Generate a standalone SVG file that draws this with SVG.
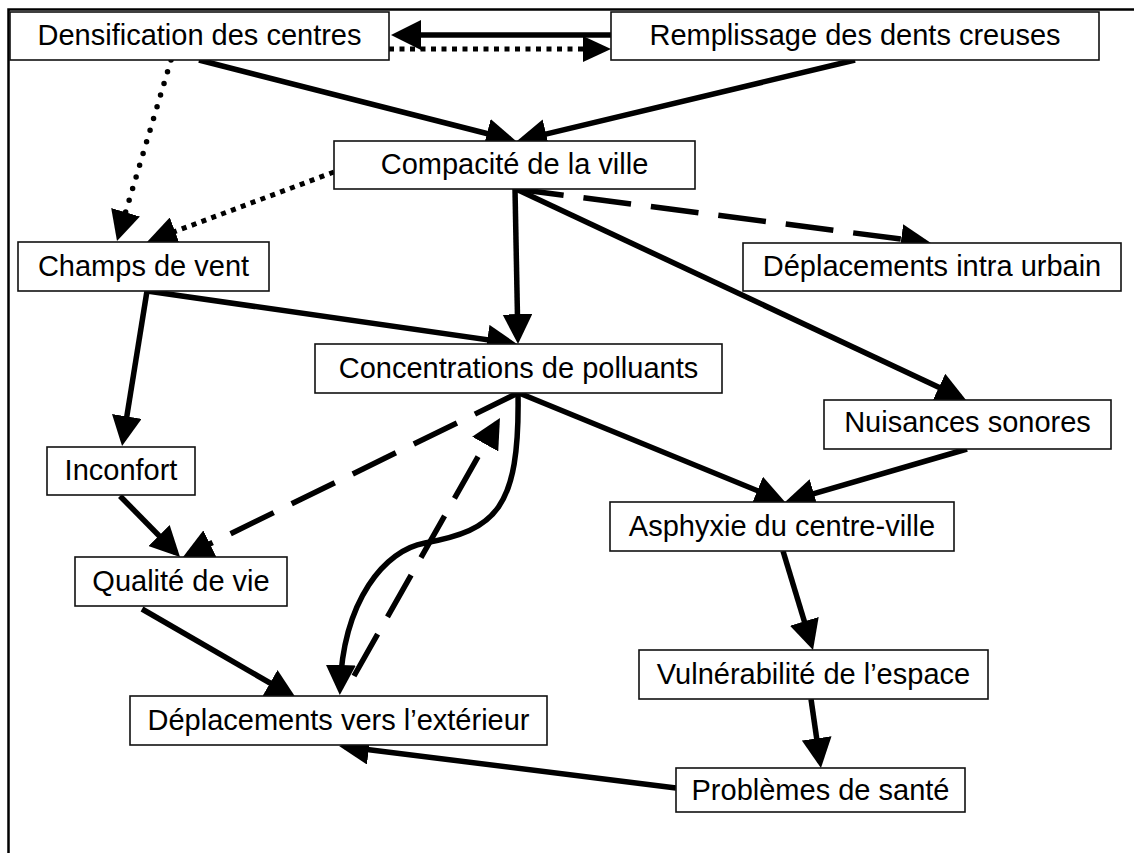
<svg xmlns="http://www.w3.org/2000/svg" width="1134" height="853" viewBox="0 0 1134 853">
  <style>
    .box { fill: #ffffff; stroke: #111111; stroke-width: 1.6; }
    .lbl { font-family: "Liberation Sans", Arial, sans-serif; font-size: 29px; fill: #000000; text-anchor: middle; }
    .frame { fill: none; stroke: #000000; stroke-width: 2.5; }
    .solid { fill: none; stroke: #000000; stroke-width: 5.5; marker-end: url(#arrow); }
    .dash { fill: none; stroke: #000000; stroke-width: 5.5; stroke-dasharray: 48 20; marker-end: url(#arrow); }
    .dots { fill: none; stroke: #000000; stroke-width: 5.5; stroke-linecap: round; stroke-dasharray: 0 12.2; marker-end: url(#arrow); }
    .sqdots { fill: none; stroke: #000000; stroke-width: 5; stroke-dasharray: 5 5.5; marker-end: url(#arrow); }
  </style>
  <defs>
    <marker id="arrow" markerUnits="userSpaceOnUse" viewBox="0 0 30 30" markerWidth="30" markerHeight="30" refX="24" refY="15" orient="auto">
      <path d="M0,0 L30,15 L0,30 z" fill="#000000"/>
    </marker>
    <marker id="arrowS" markerUnits="userSpaceOnUse" viewBox="0 0 28 26" markerWidth="28" markerHeight="26" refX="22" refY="13" orient="auto">
      <path d="M0,0 L28,13 L0,26 z" fill="#000000"/>
    </marker>
  </defs>

  <path class="frame" d="M8.5,853 L8.5,9.5 L1134,9.5"/>

  <g id="connectors">
    <line id="e-rempl-dens" class="solid" x1="611" y1="35" x2="397" y2="35"/>
    <line id="e-dens-rempl" class="sqdots" x1="389" y1="49" x2="605" y2="49" style="marker-end:url(#arrowS)"/>
    <line id="e-dens-comp" class="solid" x1="199" y1="60" x2="510.2" y2="139.5"/>
    <line id="e-rempl-comp" class="solid" x1="855" y1="60" x2="522.8" y2="139.6"/>
    <line id="e-dens-champs" class="dots" x1="171" y1="60" x2="118.7" y2="235.3"/>
    <line id="e-comp-champs" class="sqdots" x1="334" y1="172" x2="152.6" y2="239.9"/>
    <line id="e-comp-intra" class="dash" x1="516" y1="189" x2="925" y2="242.2"/>
    <line id="e-comp-conc" class="solid" x1="515" y1="189" x2="517.9" y2="338"/>
    <line id="e-comp-nuis" class="solid" x1="516" y1="189" x2="960.6" y2="397.5"/>
    <line id="e-champs-conc" class="solid" x1="147" y1="291" x2="511.1" y2="343.1"/>
    <line id="e-champs-inco" class="solid" x1="147" y1="291" x2="123" y2="440.1"/>
    <line id="e-conc-asph" class="solid" x1="519" y1="393" x2="779.5" y2="499.7"/>
    <line id="e-nuis-asph" class="solid" x1="967" y1="449" x2="790.8" y2="500.3"/>
    <line id="e-conc-qual" class="dash" x1="518" y1="393" x2="188.4" y2="554.4"/>
    <line id="e-inco-qual" class="solid" x1="120" y1="496" x2="175.8" y2="552.7"/>
    <line id="e-qual-depl" class="solid" x1="142" y1="609" x2="290.8" y2="695"/>
    <path id="e-conc-depl" class="solid" d="M518,393 C520,510 495,530 425,543 C385,550 343,600 340,689"/>
    <line id="e-depl-conc" class="dash" x1="354" y1="676" x2="497" y2="423.2"/>
    <line id="e-asph-vuln" class="solid" x1="783" y1="551" x2="811.3" y2="644.3"/>
    <line id="e-vuln-prob" class="solid" x1="811" y1="699" x2="820.1" y2="762.1"/>
    <line id="e-prob-depl" class="solid" x1="676" y1="788" x2="345" y2="746.7"/>
  </g>

  <g id="n-densification">
    <rect class="box" x="10" y="12" width="379" height="48"/>
    <text class="lbl" x="199.5" y="45">Densification des centres</text>
  </g>
  <g id="n-remplissage">
    <rect class="box" x="611" y="12" width="488" height="48"/>
    <text class="lbl" x="855" y="45">Remplissage des dents creuses</text>
  </g>
  <g id="n-compacite">
    <rect class="box" x="334" y="141" width="361" height="48"/>
    <text class="lbl" x="514.5" y="174">Compacité de la ville</text>
  </g>
  <g id="n-champs">
    <rect class="box" x="18" y="242" width="251" height="49"/>
    <text class="lbl" x="143.5" y="275.5">Champs de vent</text>
  </g>
  <g id="n-intra">
    <rect class="box" x="743" y="243" width="378" height="48"/>
    <text class="lbl" x="932" y="276">Déplacements intra urbain</text>
  </g>
  <g id="n-concentrations">
    <rect class="box" x="315" y="344" width="407" height="49"/>
    <text class="lbl" x="518.5" y="377.5">Concentrations de polluants</text>
  </g>
  <g id="n-nuisances">
    <rect class="box" x="824" y="400" width="287" height="49"/>
    <text class="lbl" x="967.5" y="432">Nuisances sonores</text>
  </g>
  <g id="n-inconfort">
    <rect class="box" x="47" y="447" width="148" height="48"/>
    <text class="lbl" x="121" y="480">Inconfort</text>
  </g>
  <g id="n-asphyxie">
    <rect class="box" x="610" y="502" width="344" height="49"/>
    <text class="lbl" x="782" y="535.5">Asphyxie du centre-ville</text>
  </g>
  <g id="n-qualite">
    <rect class="box" x="75" y="557" width="212" height="49"/>
    <text class="lbl" x="181" y="590.5">Qualité de vie</text>
  </g>
  <g id="n-vulnerabilite">
    <rect class="box" x="639" y="650" width="349" height="49"/>
    <text class="lbl" x="813.5" y="683.5">Vulnérabilité de l’espace</text>
  </g>
  <g id="n-deplacements-ext">
    <rect class="box" x="130" y="696" width="417" height="49"/>
    <text class="lbl" x="338.5" y="730">Déplacements vers l’extérieur</text>
  </g>
  <g id="n-problemes">
    <rect class="box" x="676" y="768" width="289" height="44"/>
    <text class="lbl" x="820.5" y="800">Problèmes de santé</text>
  </g>
</svg>
